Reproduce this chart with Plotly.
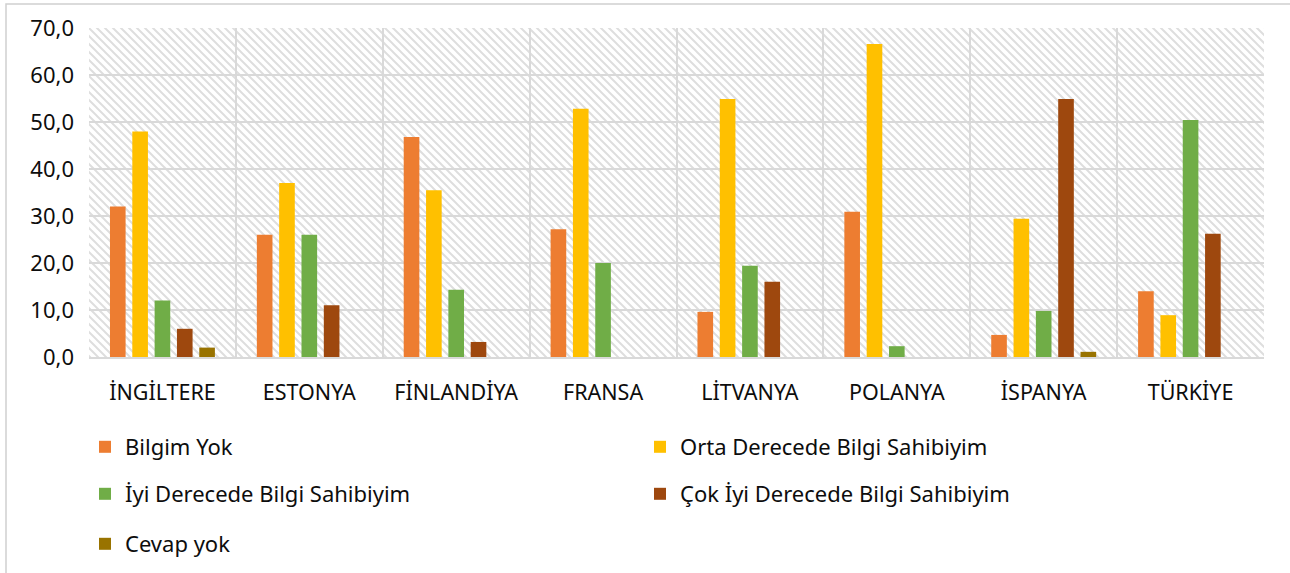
import base64
import plotly.graph_objects as go

categories = ["İNGİLTERE", "ESTONYA", "FİNLANDİYA", "FRANSA", "LİTVANYA", "POLANYA", "İSPANYA", "TÜRKİYE"]
series_names = ["Bilgim Yok", "Orta Derecede Bilgi Sahibiyim", "İyi Derecede Bilgi Sahibiyim",
                "Çok İyi Derecede Bilgi Sahibiyim", "Cevap yok"]
bilgim_yok = [32.0, 26.0, 46.8, 27.2, 9.6, 30.9, 4.7, 14.0]
orta = [48.0, 37.0, 35.5, 52.8, 54.9, 66.6, 29.4, 8.9]
iyi = [12.0, 26.0, 14.3, 20.0, 19.4, 2.3, 9.8, 50.4]
cok_iyi = [6.0, 11.0, 3.2, None, 16.0, None, 54.9, 26.2]
cevap_yok = [2.0, None, None, None, None, None, 1.1, None]
y_ticks = [0, 10, 20, 30, 40, 50, 60, 70]

colors = ["#ED7D31", "#FFC000", "#70AD47", "#9E480E", "#997300"]
legend_ids = ["legend", "legend", "legend2", "legend2", "legend3"]
all_values = [bilgim_yok, orta, iyi, cok_iyi, cevap_yok]

FONT = "Noto Sans"
TXT = "#0d0d0d"
GRID = "#d9d9d9"

fig = go.Figure()
for name, vals, col, lg in zip(series_names, all_values, colors, legend_ids):
    fig.add_trace(go.Bar(x=categories, y=vals, name=name, marker=dict(color=col, line=dict(width=0)),
                         legend=lg))

# diagonal hatch background for plot area
svg = ('<svg xmlns="http://www.w3.org/2000/svg" width="1175" height="329">'
       '<defs><pattern id="p" width="8" height="8" patternUnits="userSpaceOnUse">'
       '<path d="M-2,-2 L10,10 M-2,6 L2,10 M6,-2 L10,2" stroke="#dedede" stroke-width="2"/>'
       '</pattern></defs><rect width="100%" height="100%" fill="url(#p)"/></svg>')
uri = "data:image/svg+xml;base64," + base64.b64encode(svg.encode("utf-8")).decode("ascii")

W, H = 1290, 573
L, R, T, B = 89, 26, 28, 216
pw, ph = W - L - R, H - T - B

leg_common = dict(orientation="h", xref="container", yref="container", xanchor="left", yanchor="middle",
                  entrywidth=510, entrywidthmode="pixels", font=dict(family=FONT, size=22, color=TXT),
                  bgcolor="rgba(0,0,0,0)", traceorder="normal", itemclick=False)

fig.update_layout(
    width=W, height=H,
    margin=dict(l=L, r=R, t=T, b=B, pad=0),
    paper_bgcolor="white", plot_bgcolor="white",
    separators=",.",
    barmode="group", bargap=0.24, bargroupgap=0.3,
    font=dict(family=FONT, size=22, color=TXT),
    legend=dict(x=85 / W, y=1 - 447 / H, **leg_common),
    legend2=dict(x=85 / W, y=1 - 494 / H, **leg_common),
    legend3=dict(x=85 / W, y=1 - 544 / H, **leg_common),
    images=[dict(source=uri, xref="x domain", yref="y domain", x=0, y=1, sizex=1, sizey=1,
                 xanchor="left", yanchor="top", sizing="stretch", layer="below")],
    shapes=[dict(type="rect", xref="paper", yref="paper",
                 x0=(6 - L) / pw, x1=1.5, y0=-1.5, y1=(H - B - 4) / ph,
                 line=dict(color="#d0d0d0", width=1.5), fillcolor="rgba(0,0,0,0)", layer="below")],
    xaxis=dict(type="category", tickson="boundaries", showgrid=True, gridcolor=GRID, gridwidth=1.5,
               showline=True, linecolor=GRID, linewidth=2, ticks="", range=[-0.5, 7.5],
               tickfont=dict(family=FONT, size=21.5, color=TXT), ticklabelstandoff=15),
    yaxis=dict(range=[0, 70], tickvals=y_ticks, tickformat=".1f", showgrid=True, gridcolor=GRID,
               gridwidth=1.5, zeroline=False, showline=False, ticks="",
               tickfont=dict(family=FONT, size=22, color=TXT), ticklabelstandoff=14),
)

fig.write_html("out.html", config={"displayModeBar": False},
               post_script="document.body.style.margin='0';")
